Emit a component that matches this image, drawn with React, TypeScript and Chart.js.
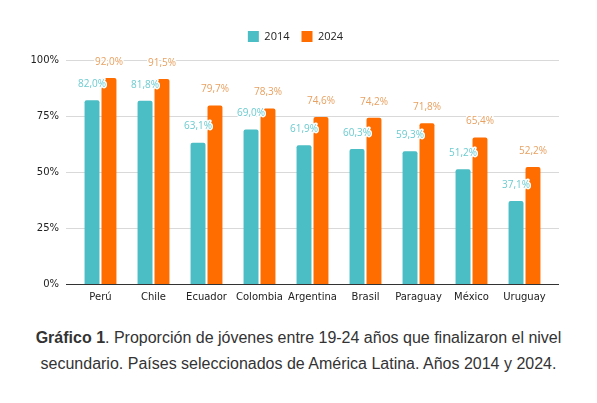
import React, { useEffect, useRef } from "react";
import { Chart, registerables } from "chart.js";

Chart.register(...registerables);

const categories = ["Perú", "Chile", "Ecuador", "Colombia", "Argentina", "Brasil", "Paraguay", "México", "Uruguay"];
const values2014 = [82.0, 81.8, 63.1, 69.0, 61.9, 60.3, 59.3, 51.2, 37.1];
const values2024 = [92.0, 91.5, 79.7, 78.3, 74.6, 74.2, 71.8, 65.4, 52.2];
const yTicks = [0, 25, 50, 75, 100];

const TEAL = "#4bbdc4";
const ORANGE = "#ff6d00";
const LABEL_COLORS = ["#6ccbd0", "#e8a060"];
const GRID_EXT = 8;

const legendSpacer = {
  id: "legendSpacer",
  beforeInit(chart: any) {
    const legend = chart.legend;
    if (!legend) return;
    const origFit = legend.fit;
    legend.fit = function () {
      origFit.call(this);
      this.height += 8;
    };
  },
};

const gridPlugin = {
  id: "extGrid",
  beforeDatasetsDraw(chart: any) {
    const ctx = chart.ctx;
    const ys = chart.scales.y;
    const area = chart.chartArea;
    ctx.save();
    ctx.lineWidth = 1;
    yTicks.forEach((v) => {
      const py = Math.round(ys.getPixelForValue(v)) + 0.5;
      ctx.strokeStyle = v === 0 ? "#333333" : "#d9d9d9";
      ctx.beginPath();
      ctx.moveTo(area.left - GRID_EXT, py);
      ctx.lineTo(area.right + GRID_EXT, py);
      ctx.stroke();
    });
    ctx.restore();
  },
};

const labelPlugin = {
  id: "valueLabels",
  afterDatasetsDraw(chart: any) {
    const ctx = chart.ctx;
    ctx.save();
    ctx.font = "10px 'Open Sans', sans-serif";
    ctx.textAlign = "center";
    ctx.textBaseline = "bottom";
    chart.data.datasets.forEach((ds: any, di: number) => {
      const meta = chart.getDatasetMeta(di);
      meta.data.forEach((bar: any, i: number) => {
        const v = ds.data[i] as number;
        const txt = v.toFixed(1).replace(".", ",") + "%";
        const x = bar.x;
        const y = bar.y - 11;
        ctx.lineWidth = 3;
        ctx.strokeStyle = "#ffffff";
        ctx.lineJoin = "round";
        ctx.strokeText(txt, x, y);
        ctx.fillStyle = LABEL_COLORS[di];
        ctx.fillText(txt, x, y);
      });
    });
    ctx.restore();
  },
};

export default function App() {
  const ref = useRef<HTMLCanvasElement>(null);
  useEffect(() => {
    if (!ref.current) return;
    const chart = new Chart(ref.current, {
      type: "bar",
      data: {
        labels: categories,
        datasets: [
          { label: "2014", data: values2014, backgroundColor: TEAL, borderRadius: 2, borderSkipped: "bottom" },
          { label: "2024", data: values2024, backgroundColor: ORANGE, borderRadius: 2, borderSkipped: "bottom" },
        ],
      },
      options: {
        responsive: false,
        animation: false,
        devicePixelRatio: 1,
        layout: { padding: { left: 0, right: 6, top: 19, bottom: 0 } },
        datasets: { bar: { categoryPercentage: 0.64, barPercentage: 0.88 } },
        plugins: {
          legend: {
            position: "top",
            labels: {
              boxWidth: 11,
              boxHeight: 11,
              color: "#222",
              font: { family: "'Open Sans', sans-serif", size: 11 },
              padding: 12,
            },
          },
          tooltip: { enabled: false },
        },
        scales: {
          x: {
            grid: { display: false, drawTicks: false },
            border: { display: false },
            ticks: { color: "#222", font: { family: "'DejaVu Sans', sans-serif", size: 10 }, padding: 7, maxRotation: 0 },
          },
          y: {
            min: 0,
            max: 100,
            afterBuildTicks: (axis: any) => {
              axis.ticks = yTicks.map((v) => ({ value: v }));
            },
            afterFit: (axis: any) => {
              axis.width = 74;
            },
            grid: { display: false, drawTicks: false },
            border: { display: false },
            ticks: {
              color: "#222",
              font: { family: "'DejaVu Sans', sans-serif", size: 10 },
              padding: 15,
              callback: (v: any) => v + "%",
            },
          },
          yRight: {
            position: "right",
            display: true,
            grid: { display: false, drawTicks: false },
            border: { display: false },
            ticks: { display: false },
            afterFit: (axis: any) => {
              axis.width = 40;
            },
          },
        },
      },
      plugins: [legendSpacer, gridPlugin, labelPlugin],
    } as any);
    return () => chart.destroy();
  }, []);

  return (
    <div style={{ position: "fixed", left: 0, top: 0, width: 597, height: 403, background: "#fff" }}>
      <canvas ref={ref} width={597} height={310} style={{ position: "absolute", left: 0, top: 0 }} />
      <div
        style={{
          position: "absolute",
          left: 0,
          top: 325,
          width: 597,
          textAlign: "center",
          fontFamily: "'Liberation Sans', Arial, sans-serif",
          fontSize: 16,
          lineHeight: "26px",
          color: "#333",
        }}
      >
        <b>Gráfico 1</b>. Proporción de jóvenes entre 19-24 años que finalizaron el nivel
        <br />
        secundario. Países seleccionados de América Latina. Años 2014 y 2024.
      </div>
    </div>
  );
}
